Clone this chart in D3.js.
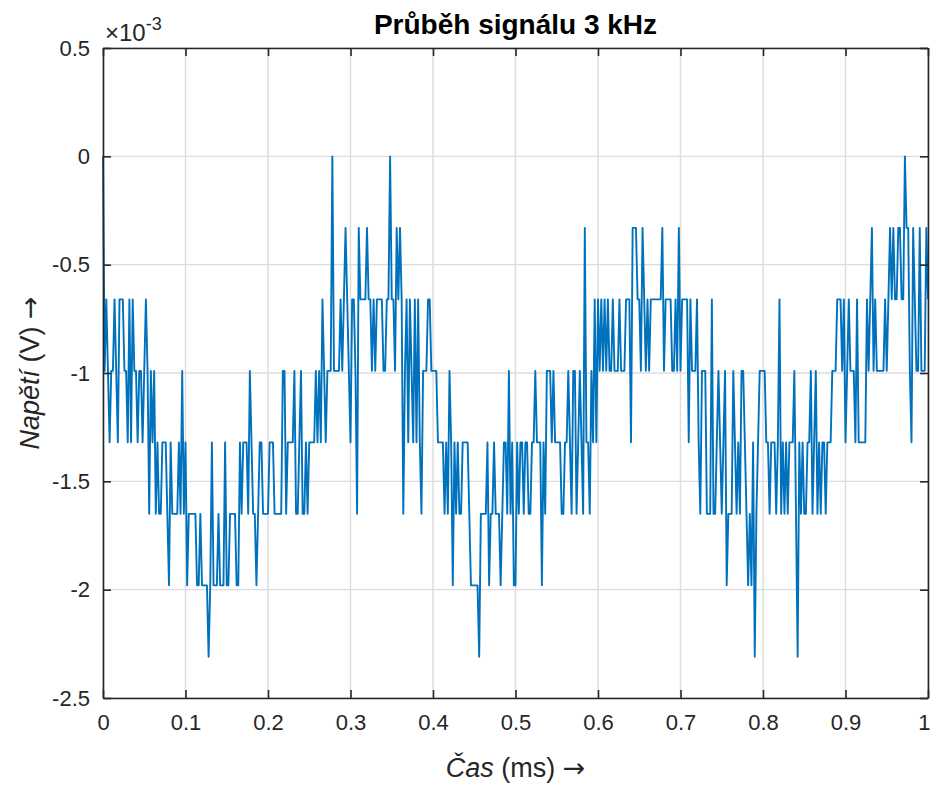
<!DOCTYPE html>
<html><head><meta charset="utf-8">
<script src="https://cdn.jsdelivr.net/npm/d3@7/dist/d3.min.js"></script>
<style>
body{margin:0;background:#fff;}
svg{display:block;font-family:"Liberation Sans",Arial,Helvetica,sans-serif;}
</style>
</head><body>
<svg id="chart" width="932" height="785"></svg>
<script>
// Signal values in units of 1e-3 V (axis shows ×10^-3), sampled every 0.002 ms
const voltage = [
0,-0.99,-0.66,-0.99,-1.32,-0.99,-0.99,-0.66,-0.99,-1.32,
-0.66,-0.66,-0.66,-0.99,-0.99,-1.32,-0.66,-1.32,-0.66,-0.99,
-0.99,-1.32,-0.99,-0.99,-1.32,-0.99,-0.66,-0.99,-1.65,-0.99,
-1.32,-0.99,-1.65,-1.32,-1.65,-1.65,-1.32,-1.32,-1.32,-1.65,
-1.98,-1.32,-1.65,-1.65,-1.65,-1.65,-1.32,-1.65,-0.99,-1.65,
-1.32,-1.98,-1.65,-1.65,-1.65,-1.65,-1.65,-1.98,-1.98,-1.65,
-1.98,-1.98,-1.98,-1.98,-2.31,-1.98,-1.32,-1.98,-1.98,-1.98,
-1.65,-1.98,-1.98,-1.98,-1.32,-1.98,-1.98,-1.65,-1.65,-1.65,
-1.65,-1.98,-1.98,-1.32,
-1.65,-1.32,-1.32,-1.32,-1.65,-0.99,
-1.32,-1.65,-1.65,-1.98,-1.65,-1.32,-1.32,-1.65,-1.65,-1.65,
-1.65,-1.32,-1.32,-1.32,-1.65,-1.65,-1.65,-1.65,-1.65,-0.99,
-0.99,-1.65,-1.32,-1.32,-1.32,-1.32,-0.99,-1.65,-1.65,-1.32,
-0.99,-1.65,-1.65,-1.32,-1.65,-1.32,-1.32,-1.32,-1.32,-0.99,
-1.32,-0.99,-1.32,-0.66,-0.99,-1.32,-0.99,-0.99,-0.99,0,
-0.99,-0.99,-0.99,-0.99,-0.66,-0.99,-0.66,-0.33,-0.66,-0.99,
-1.32,-0.66,-0.66,-0.99,-1.65,-0.33,-0.66,-0.66,-0.66,-0.66,
-0.33,-0.66,-0.66,-0.99,-0.66,-0.99,-0.66,
-0.66,-0.66,-0.66,
-0.99,-0.99,-0.66,-0.66,0,-0.66,-0.66,-0.99,-0.33,-0.66,
-0.33,-0.66,-1.65,-0.99,-0.66,-1.32,-0.66,-0.99,-1.32,-0.66,
-1.32,-0.66,-1.32,-1.65,-0.99,-0.99,-0.99,-0.66,-0.66,-0.99,
-0.99,-0.99,-0.99,-1.32,-1.32,-1.32,-1.32,-1.65,-1.32,-1.65,
-0.99,-1.32,-1.98,-1.32,-1.65,-1.32,-1.65,-1.65,-1.32,-1.32,
-1.32,-1.32,-1.65,-1.98,-1.98,-1.98,-1.98,-1.98,-2.31,-1.65,
-1.65,-1.65,-1.65,-1.32,-1.98,-1.65,-1.65,-1.32,-1.65,-1.65,
-1.65,-1.98,-1.65,-1.32,-1.32,-1.65,-0.99,-1.65,-1.32,-1.98,
-1.98,-1.32,-1.65,-1.32,-1.32,-1.65,-1.32,-1.32,-1.65,-1.65,
-1.32,-1.32,-0.99,-1.32,-1.32,-1.32,-1.98,-1.32,-1.65,-0.99,
-0.99,-0.99,-1.32,-0.99,-1.32,-1.32,-1.32,-1.32,-1.65,-1.65,
-1.32,-1.32,-0.99,-1.32,-1.65,-0.99,-0.99,-1.65,-1.32,-0.99,
-1.32,-1.65,-0.33,-1.32,-1.32,-1.65,-0.99,-1.32,-0.66,-1.32,
-0.66,-0.99,-0.66,-0.99,-0.66,-0.99,-0.66,-0.99,-0.99,-0.66,
-0.99,-0.99,-0.99,-0.66,-0.99,-0.99,-0.99,-0.66,-0.66,-0.66,
-1.32,-0.33,-0.33,-0.33,-0.66,-0.66,-0.99,-0.33,-0.66,-0.99,
-0.66,-0.99,-0.66,
-0.66,-0.66,-0.66,-0.66,-0.66,-0.66,-0.33,
-0.99,-0.66,-0.66,-0.66,-0.66,-0.99,-0.99,-0.66,-0.99,-0.33,
-0.99,-0.66,-0.66,-0.66,-0.66,-1.32,-0.66,-0.99,-0.99,-0.99,
-0.66,-1.32,-1.65,-0.99,-0.99,-0.99,-1.65,-1.65,-1.65,-0.66,
-1.65,-1.65,-1.32,-0.99,-1.32,-1.65,-1.32,-0.99,-1.98,-1.65,
-1.65,-1.65,-0.99,-1.32,-1.65,-1.32,-1.65,-0.99,-0.99,-1.32,
-1.65,-1.98,-1.65,-1.98,-1.32,-2.31,-1.65,-1.32,-0.99,-0.99,
-0.99,-0.99,-1.32,-1.32,-1.65,-1.32,-1.32,-1.32,-1.65,-1.32,
-0.66,-1.65,-1.32,-1.65,-1.32,-1.65,-1.32,-1.32,
-1.32,-0.99,
-1.65,-2.31,-1.32,-1.65,-1.32,-1.65,-1.65,-1.32,-1.32,-0.99,
-1.65,-1.32,-0.99,-1.65,-1.32,-1.65,-1.32,-1.32,-1.65,-1.32,
-1.32,-1.32,-0.99,-0.99,-0.99,-0.66,-0.66,-0.66,-0.99,-0.66,
-1.32,-0.99,-0.66,-0.99,-0.99,-0.99,-1.32,-0.66,-1.32,-1.32,
-1.32,-1.32,-1.32,-0.66,-0.99,-0.66,-0.33,-0.99,-0.66,-0.99,
-0.99,-0.99,-0.99,-0.99,-0.66,-0.99,-0.66,-0.33,-0.66,-0.33,
-0.66,-0.66,-0.33,-0.33,-0.66,-0.66,0,-0.33,-0.33,-0.99,
-1.32,-0.33,-0.66,-0.99,-0.99,-0.33,-0.99,-0.99,-0.99,-0.33,
-0.66
];
const sampleStepMs = 0.002;
const xTicks = [0,0.1,0.2,0.3,0.4,0.5,0.6,0.7,0.8,0.9,1];
const xTickLabels = ["0","0.1","0.2","0.3","0.4","0.5","0.6","0.7","0.8","0.9","1"];
const yTicks = [0.5,0,-0.5,-1,-1.5,-2,-2.5];
const yTickLabels = ["0.5","0","-0.5","-1","-1.5","-2","-2.5"];
const titleText = "Průběh signálu 3 kHz";

const points = voltage.map((v,i)=>({t:i*sampleStepMs, v:v}));

const W=932,H=785;
const L=103,R=928,T=48,B=698;
const svg=d3.select("#chart");
svg.append("rect").attr("width",W).attr("height",H).attr("fill","#fff");

const x=d3.scaleLinear().domain([0,1]).range([L,R]);
const y=d3.scaleLinear().domain([-2.5,0.5]).range([B,T]);
const axisColor="#262626";
const tickFont=22;

// grid
const grid=svg.append("g");
grid.selectAll("line.vx").data(xTicks).join("line")
  .attr("x1",d=>x(d)).attr("x2",d=>x(d)).attr("y1",T).attr("y2",B)
  .attr("stroke","#dcdcdc").attr("stroke-width",1.4);
grid.selectAll("line.hy").data(yTicks).join("line")
  .attr("y1",d=>y(d)).attr("y2",d=>y(d)).attr("x1",L).attr("x2",R)
  .attr("stroke","#dcdcdc").attr("stroke-width",1.4);

// signal
const line=d3.line().x(d=>x(d.t)).y(d=>y(d.v));
svg.append("path").datum(points).attr("d",line)
  .attr("fill","none").attr("stroke","#0072BD").attr("stroke-width",1.9)
  .attr("stroke-linejoin","round");

// axes (inner ticks, box)
const tl=8;
const axB=d3.axisBottom(x).tickValues(xTicks).tickFormat((d,i)=>xTickLabels[i]).tickSizeInner(-tl).tickSizeOuter(0).tickPadding(16);
const axT=d3.axisTop(x).tickValues(xTicks).tickFormat("").tickSizeInner(-tl).tickSizeOuter(0);
const axLft=d3.axisLeft(y).tickValues(yTicks).tickFormat((d,i)=>yTickLabels[i]).tickSizeInner(-tl).tickSizeOuter(0).tickPadding(13);
const axRgt=d3.axisRight(y).tickValues(yTicks).tickFormat("").tickSizeInner(-tl).tickSizeOuter(0);
function style(g){
  g.attr("font-size",tickFont).attr("font-family","Liberation Sans, Arial, sans-serif");
  g.selectAll("path.domain").attr("stroke",axisColor).attr("stroke-width",1.6);
  g.selectAll(".tick line").attr("stroke",axisColor).attr("stroke-width",1.6);
  g.selectAll(".tick text").attr("fill",axisColor).attr("font-size",tickFont);
}
const gB=svg.append("g").attr("transform",`translate(0,${B})`).call(axB).call(style);
gB.selectAll(".tick text").filter((d,i)=>i===xTicks.length-1).attr("text-anchor","end").attr("x",2);
svg.append("g").attr("transform",`translate(0,${T})`).call(axT).call(style);
svg.append("g").attr("transform",`translate(${L},0)`).call(axLft).call(style);
svg.append("g").attr("transform",`translate(${R},0)`).call(axRgt).call(style);

// exponent
const ex=svg.append("text").attr("x",L+2).attr("y",T-7).attr("fill",axisColor).attr("font-size",24);
ex.append("tspan").text("×10");
ex.append("tspan").attr("dy",-11).attr("font-size",18).text("-3");

// title
svg.append("text").attr("x",(L+R)/2).attr("y",34).attr("text-anchor","middle")
  .attr("font-weight","bold").attr("font-size",28).attr("fill","#000").text(titleText);

// x label
const xl=svg.append("text").attr("x",(L+R)/2).attr("y",777).attr("text-anchor","middle")
  .attr("font-size",27).attr("fill",axisColor);
xl.append("tspan").attr("font-style","italic").text("Čas");
xl.append("tspan").text(" (ms) ");
xl.append("tspan").attr("font-family","DejaVu Sans").text("→");

// y label
const yl=svg.append("text").attr("transform",`translate(39,${(T+B)/2}) rotate(-90)`).attr("text-anchor","middle")
  .attr("font-size",27).attr("fill",axisColor);
yl.append("tspan").attr("font-style","italic").text("Napětí");
yl.append("tspan").text(" (V) ");
yl.append("tspan").attr("font-family","DejaVu Sans").text("→");
</script>
</body></html>
